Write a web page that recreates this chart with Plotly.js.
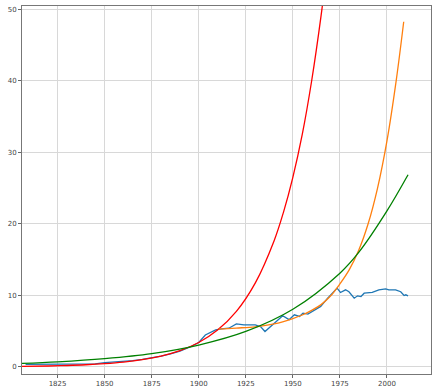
<!DOCTYPE html>
<html>
<head>
<meta charset="utf-8">
<script src="https://cdn.plot.ly/plotly-3.0.1.min.js"></script>
<style>html,body{margin:0;padding:0;background:#fff;}#chart{width:438px;height:391px;}</style>
</head>
<body>
<div id="chart"></div>
<script>
// Observed data (blue)
const dataYears = [1808,1815,1820,1830,1840,1845,1850,1855,1860,1865,1870,1875,1880,1885,1890,1896,1900,1903.5,1906,1909,1912,1916,1920,1924,1930,1932.8,1935.2,1940,1944.6,1948,1950.8,1953.5,1955.4,1958,1961.5,1964.8,1968.5,1970.9,1973.5,1975.3,1978,1979.8,1982.6,1984.4,1986.2,1987.9,1990.4,1992.2,1995.7,1999.3,2001,2004.6,2007.3,2009.1,2010,2011.2];
const dataVals  = [0.35,0.35,0.35,0.36,0.38,0.42,0.58,0.66,0.75,0.88,1.05,1.25,1.5,1.8,2.2,2.84,3.4,4.45,4.8,5.17,5.3,5.4,6.0,5.88,5.87,5.64,4.94,6.1,7.15,6.6,7.27,7.04,7.5,7.38,7.97,8.45,9.6,10.3,11.0,10.4,10.77,10.5,9.6,9.93,9.83,10.3,10.3,10.4,10.77,10.9,10.77,10.77,10.5,9.97,10.07,9.93];

// Fitted curve 1 (red)
const redYears = [1806,1820,1830,1840,1850,1860,1870,1880,1890,1900,1910,1920,1930,1940,1945,1950,1955,1960,1965,1968];
const redVals  = [0.07,0.12,0.19,0.29,0.44,0.66,1.0,1.51,2.27,3.41,5.14,7.75,11.7,17.6,21.6,26.5,32.5,40.0,49.1,55.5];

// Fitted curve 2 (orange)
const orangeYears = [1910.6,1920,1930,1940,1950,1955,1960,1965,1970,1975,1980,1985,1990,1995,2000,2005,2008.9];
const orangeVals  = [5.27,5.42,5.6,6.0,6.75,7.25,7.9,8.7,9.9,11.6,13.6,16.3,20.0,25.0,31.6,40.2,48.25];

// Fitted curve 3 (green)
const greenYears = [1806,1825,1850,1875,1900,1925,1950,1975,1985,2000,2011.2];
const greenVals  = [0.48,0.7,1.15,1.85,3.05,4.95,8.05,13.1,16.0,21.8,26.85];

const xTicks = [1825,1850,1875,1900,1925,1950,1975,2000];
const yTicks = [0,10,20,30,40,50];

const traces = [
  {x: dataYears, y: dataVals, mode:'lines', line:{color:'#1f77b4', width:1.3}},
  {x: redYears, y: redVals, mode:'lines', line:{color:'#ff0000', width:1.3, shape:'spline'}},
  {x: orangeYears, y: orangeVals, mode:'lines', line:{color:'#ff7f0e', width:1.3, shape:'spline'}},
  {x: greenYears, y: greenVals, mode:'lines', line:{color:'#008000', width:1.3, shape:'spline'}}
];

const axisCommon = {
  showgrid: true, gridcolor:'#d8d8d8', gridwidth:1,
  zeroline: false,
  showline: true, linecolor:'#777', linewidth:1, mirror: true,
  ticks:'outside', ticklen:3, tickcolor:'#666', tickwidth:1,
  tickfont:{family:'DejaVu Sans', size:7, color:'#444'}
};

const layout = {
  width:438, height:391,
  margin:{l:22, r:7, t:6, b:17, pad:0},
  paper_bgcolor:'#fff', plot_bgcolor:'#fff',
  showlegend:false,
  xaxis: Object.assign({}, axisCommon, {range:[1806.1, 2023.4], tickvals:xTicks, ticktext:xTicks.map(String)}),
  yaxis: Object.assign({}, axisCommon, {range:[-1.0, 50.45], tickvals:yTicks, ticktext:yTicks.map(String)})
};

Plotly.newPlot('chart', traces, layout, {displayModeBar:false, staticPlot:true});
</script>
</body>
</html>
